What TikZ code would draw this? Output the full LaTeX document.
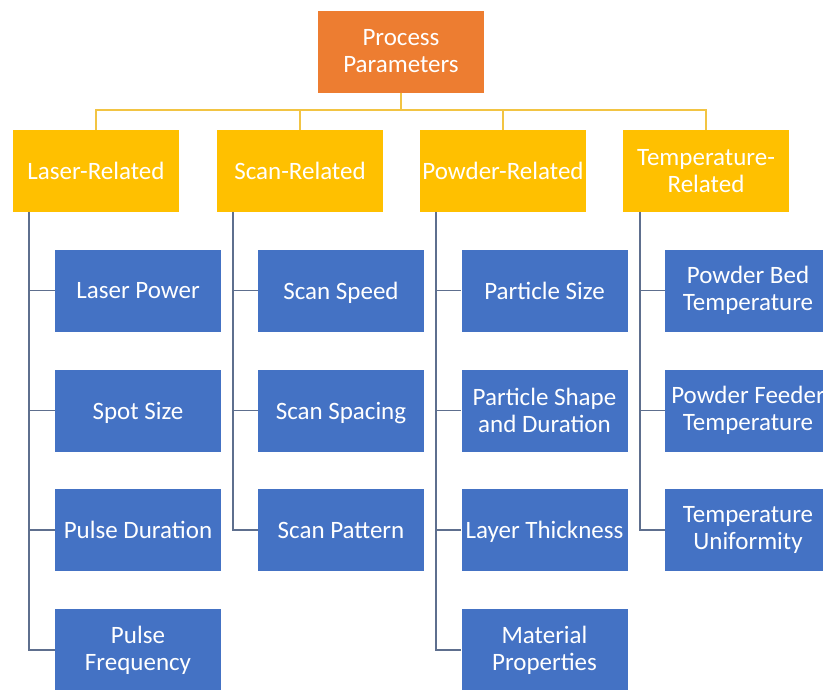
\documentclass[tikz,border=0pt]{standalone}
\usepackage{fontspec}
\setmainfont{Carlito}
\definecolor{orangebox}{HTML}{ED7D31}
\definecolor{yellowbox}{HTML}{FFC000}
\definecolor{bluebox}{HTML}{4472C4}
\definecolor{yline}{HTML}{F2C443}
\definecolor{bline}{HTML}{5E6F8E}
\newcommand\nodepth[1]{\raisebox{0pt}[\height][0pt]{#1}}
\begin{document}
\begin{tikzpicture}[x=1pt,y=-1pt,
  box/.style={minimum width=166pt,minimum height=82pt,inner sep=1pt,align=center,
    text=white,font=\fontsize{25}{27}\selectfont},
  topbox/.style={box,fill=orangebox},
  catbox/.style={box,fill=yellowbox},
  leafbox/.style={box,fill=bluebox},
  yconn/.style={draw=yline,line width=1.6pt},
  bconn/.style={draw=bline,line width=1.6pt}]
\useasboundingbox (0,0) rectangle (823,689);
\fill[white] (0,0) rectangle (823,689);
% top
\node[topbox] (top) at (401,51.5) {Process\\Parameters};
% categories
\node[catbox] (laser) at (96,171) {\nodepth{Laser-Related}};
\node[catbox] (scan) at (300,171) {\nodepth{Scan-Related}};
\node[catbox] (powder) at (503,171) {\nodepth{Powder-Related}};
\node[catbox] (temp) at (706,171) {Temperature-\\Related};
% leaves
\node[leafbox] (l1) at (138,290.5) {\nodepth{Laser Power}};
\node[leafbox] (l2) at (138,410.5) {\nodepth{Spot Size}};
\node[leafbox] (l3) at (138,530) {\nodepth{Pulse Duration}};
\node[leafbox] (l4) at (138,650) {Pulse\\Frequency};
\node[leafbox] (s1) at (341,290.5) {\nodepth{Scan Speed}};
\node[leafbox] (s2) at (341,410.5) {\nodepth{Scan Spacing}};
\node[leafbox] (s3) at (341,530) {\nodepth{Scan Pattern}};
\node[leafbox] (p1) at (544.5,290.5) {\nodepth{Particle Size}};
\node[leafbox] (p2) at (544.5,410.5) {Particle Shape\\and Duration};
\node[leafbox] (p3) at (544.5,530) {\nodepth{Layer Thickness}};
\node[leafbox] (p4) at (544.5,650) {Material\\Properties};
\node[leafbox] (t1) at (748,290.5) {Powder Bed\\Temperature};
\node[leafbox] (t2) at (748,410.5) {Powder Feeder\\Temperature};
\node[leafbox] (t3) at (748,530) {Temperature\\Uniformity};
% top connectors
\coordinate (bus) at (401,110);
\draw[yconn] (top.south) -- (bus) -| (laser.north);
\draw[yconn] (bus) -| (scan.north);
\draw[yconn] (bus) -| (powder.north);
\draw[yconn] (bus) -| (temp.north);
% spines
\coordinate (sl) at (29,212);
\coordinate (ss) at (233,212);
\coordinate (sp) at (436,212);
\coordinate (st) at (640,212);
\foreach \c in {l1,l2,l3,l4} \draw[bconn] (sl) |- (\c.west);
\foreach \c in {s1,s2,s3} \draw[bconn] (ss) |- (\c.west);
\foreach \c in {p1,p2,p3,p4} \draw[bconn] (sp) |- (\c.west);
\foreach \c in {t1,t2,t3} \draw[bconn] (st) |- (\c.west);
\end{tikzpicture}
\end{document}
